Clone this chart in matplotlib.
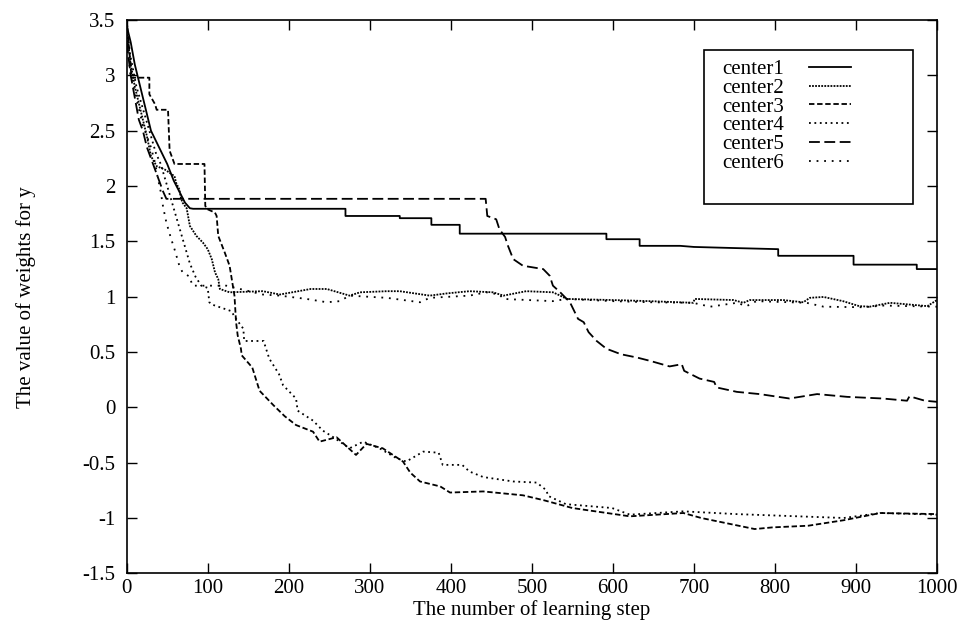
import matplotlib
matplotlib.use('Agg')
import matplotlib.pyplot as plt
from matplotlib.ticker import FuncFormatter, MultipleLocator
from matplotlib.patches import Rectangle

# Weight trajectories (learning step, weight value)
c1_x = [0, 5, 10, 15, 20, 25, 30, 40, 50, 58, 65, 72, 78, 82, 270, 270, 337, 337, 376, 376,
        411, 411, 592, 592, 633, 633, 683, 700, 750, 804, 804, 897, 897, 975, 975, 1000]
c1_y = [3.45, 3.3, 3.1, 2.95, 2.8, 2.65, 2.5, 2.35, 2.2, 2.05, 1.95, 1.85, 1.8, 1.795, 1.795, 1.73,
        1.73, 1.71, 1.71, 1.65, 1.65, 1.57, 1.57, 1.52, 1.52, 1.46, 1.46, 1.45, 1.44, 1.43, 1.37,
        1.37, 1.29, 1.29, 1.25, 1.25]

c2_x = [0, 5, 10, 15, 20, 25, 30, 37, 47, 53, 59, 61, 65, 67, 69, 74, 78, 86, 94, 100, 105, 109,
        113, 115, 127, 168, 189, 227, 247, 275, 288, 321, 337, 374, 395, 423, 452, 465, 493, 526,
        535, 543, 600, 646, 699, 701, 749, 761, 769, 810, 835, 843, 860, 884, 904, 917, 942, 988, 1000]
c2_y = [3.4, 3.1, 2.9, 2.75, 2.6, 2.45, 2.27, 2.18, 2.15, 2.12, 2.09, 2.03, 1.97, 1.89, 1.85, 1.8,
        1.64, 1.55, 1.49, 1.43, 1.34, 1.22, 1.16, 1.07, 1.04, 1.05, 1.02, 1.07, 1.07, 1.01, 1.04,
        1.05, 1.05, 1.01, 1.03, 1.05, 1.04, 1.01, 1.05, 1.04, 1.01, 0.98, 0.97, 0.96, 0.945, 0.98,
        0.97, 0.945, 0.97, 0.97, 0.95, 0.99, 0.998, 0.96, 0.915, 0.91, 0.945, 0.915, 0.97]

c3_x = [0, 6, 28, 28, 35, 37, 51, 53, 59, 96, 97, 100, 109, 111, 113, 121, 127, 131, 133, 135,
        137, 141, 142, 155, 164, 181, 195, 209, 230, 238, 259, 283, 296, 316, 341, 350, 362, 387,
        399, 440, 489, 515, 550, 621, 687, 709, 775, 797, 841, 885, 930, 1000]
c3_y = [3.5, 2.98, 2.98, 2.83, 2.74, 2.69, 2.69, 2.32, 2.2, 2.2, 1.82, 1.79, 1.76, 1.73, 1.55,
        1.4, 1.28, 1.1, 1.01, 0.77, 0.65, 0.53, 0.47, 0.36, 0.15, 0.02, -0.08, -0.16, -0.22,
        -0.31, -0.27, -0.43, -0.33, -0.37, -0.49, -0.59, -0.67, -0.715, -0.77, -0.76, -0.795,
        -0.84, -0.91, -0.985, -0.955, -1.0, -1.1, -1.085, -1.07, -1.02, -0.955, -0.965]

c4_x = [0, 4, 8, 12, 18, 24, 30, 36, 42, 48, 54, 60, 66, 72, 78, 85, 92, 100, 102, 105, 129, 135,
        144, 145, 169, 172, 176, 188, 193, 209, 211, 230, 242, 255, 275, 292, 312, 333, 345, 366,
        385, 390, 414, 423, 440, 477, 506, 518, 520, 542, 599, 621, 687, 753, 885, 930, 1000]
c4_y = [3.5, 3.2, 3.05, 2.9, 2.75, 2.6, 2.45, 2.3, 2.2, 2.05, 1.9, 1.75, 1.6, 1.45, 1.3, 1.18, 1.1,
        1.08, 0.95, 0.93, 0.87, 0.8, 0.71, 0.6, 0.6, 0.53, 0.44, 0.3, 0.2, 0.08, -0.03, -0.12,
        -0.21, -0.27, -0.37, -0.31, -0.37, -0.46, -0.49, -0.4, -0.41, -0.52, -0.52, -0.58, -0.63,
        -0.67, -0.68, -0.75, -0.8, -0.875, -0.91, -0.97, -0.94, -0.965, -1.0, -0.955, -0.97]

c5_x = [0, 5, 10, 15, 20, 25, 30, 35, 40, 45, 49, 443, 445, 456, 460, 467, 470, 477, 489, 514,
        522, 526, 535, 547, 557, 564, 570, 580, 592, 610, 630, 646, 670, 685, 688, 707, 725, 728,
        753, 781, 818, 852, 889, 933, 963, 966, 985, 1000]
c5_y = [3.3, 3.0, 2.8, 2.6, 2.5, 2.35, 2.25, 2.15, 2.05, 1.95, 1.885, 1.885, 1.73, 1.7, 1.61,
        1.54, 1.47, 1.34, 1.28, 1.25, 1.19, 1.1, 1.04, 0.95, 0.8, 0.77, 0.68, 0.6, 0.53, 0.48,
        0.45, 0.42, 0.37, 0.39, 0.33, 0.26, 0.23, 0.18, 0.14, 0.12, 0.08, 0.12, 0.095, 0.08, 0.06,
        0.1, 0.06, 0.05]

c6_x = [0, 5, 10, 15, 20, 25, 30, 35, 38, 42, 45, 49, 55, 59, 65, 69, 78, 81, 123, 168, 189, 222,
        247, 263, 275, 321, 362, 374, 423, 444, 460, 465, 526, 543, 600, 646, 699, 720, 753, 765,
        777, 839, 860, 909, 934, 1000]
c6_y = [3.3, 3.0, 2.85, 2.7, 2.55, 2.45, 2.35, 2.21, 2.09, 1.95, 1.81, 1.67, 1.52, 1.43, 1.28,
        1.22, 1.18, 1.1, 1.1, 1.02, 1.01, 0.98, 0.95, 0.96, 1.01, 0.99, 0.95, 0.99, 1.01, 1.04,
        1.02, 0.98, 0.96, 0.98, 0.96, 0.95, 0.945, 0.91, 0.945, 0.915, 0.96, 0.945, 0.91, 0.905,
        0.92, 0.91]

labels = ['center1', 'center2', 'center3', 'center4', 'center5', 'center6']

plt.rcParams['font.family'] = ['Liberation Serif', 'DejaVu Serif']
plt.rcParams['axes.unicode_minus'] = False

fig = plt.figure(figsize=(9.67, 6.3), dpi=100)
ax = fig.add_axes([0.131, 0.09, 0.838, 0.878])

styles = ['-', (0, (1, 0.7)), (0, (3, 1.5)), (0, (1, 2.0)), (0, (6, 2.5)), (0, (1, 3.2))]
series = [(c1_x, c1_y), (c2_x, c2_y), (c3_x, c3_y), (c4_x, c4_y), (c5_x, c5_y), (c6_x, c6_y)]
for (xs, ys), ls, lab in zip(series, styles, labels):
    ax.plot(xs, ys, color='black', lw=1.3, linestyle=ls, label=lab)

ax.set_xlim(0, 1000)
ax.set_ylim(-1.5, 3.5)
ax.xaxis.set_major_locator(MultipleLocator(100))
ax.yaxis.set_major_locator(MultipleLocator(0.5))
ax.yaxis.set_major_formatter(FuncFormatter(lambda v, p: f"{v:g}"))
ax.tick_params(direction='in', top=True, right=True, length=7, width=1,
               labelsize=15, color='black')
ax.tick_params(axis='x', pad=4)
ax.tick_params(axis='y', pad=8)
for s in ax.spines.values():
    s.set_linewidth(1.2)

ax.set_xlabel('The number of learning step', fontsize=15)
ax.set_ylabel('The value of weights for y', fontsize=15)
ax.xaxis.set_label_coords(0.5, -0.048)
ax.yaxis.set_label_coords(-0.112, 0.5)

leg = ax.legend(loc='upper right', bbox_to_anchor=(0.912, 0.955), frameon=False,
                markerfirst=False, fontsize=15, labelspacing=-0.04, handlelength=2.0,
                handletextpad=1.2, borderpad=0.2)
ax.add_patch(Rectangle((0.713, 0.668), 0.257, 0.278, transform=ax.transAxes,
                       fill=False, edgecolor='black', lw=1.2))

plt.savefig('out.png', dpi=100)
